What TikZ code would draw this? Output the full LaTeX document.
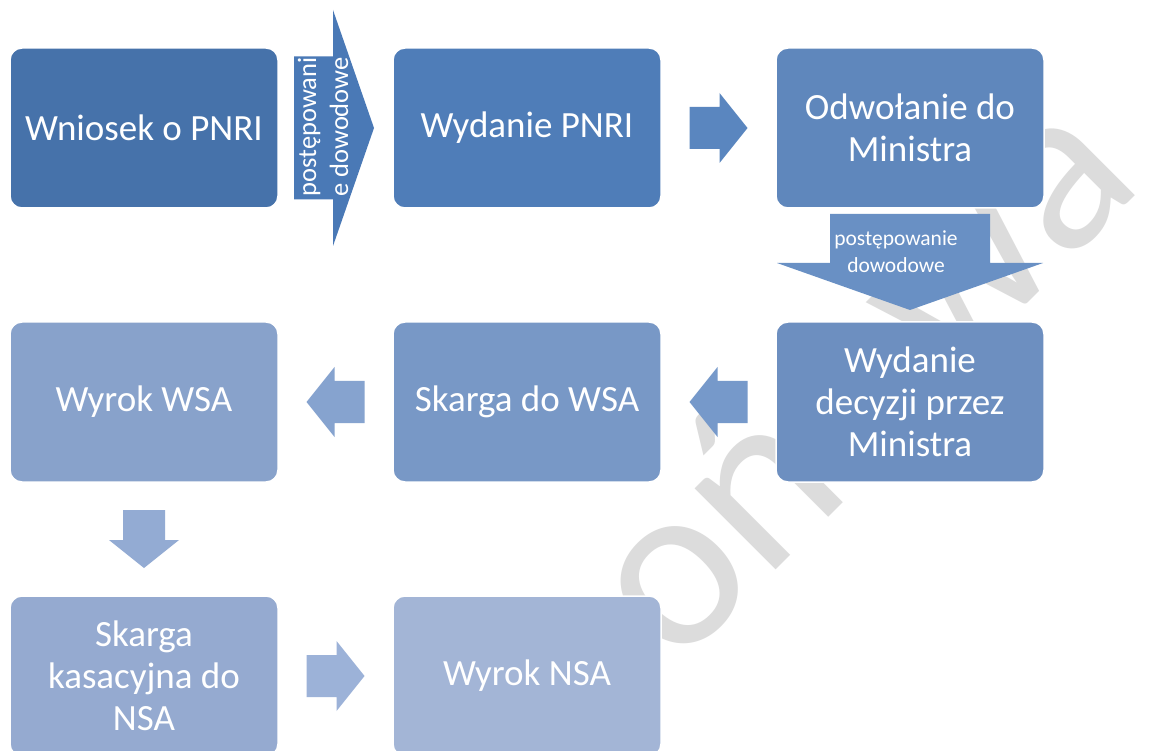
\documentclass[tikz,border=0pt]{standalone}
\usepackage{fontspec}
\setmainfont{Carlito}
\usetikzlibrary{calc}

% box fills, darkest first
\definecolor{bxA}{HTML}{4672AA}
\definecolor{bxB}{HTML}{4F7DB8}
\definecolor{bxC}{HTML}{5F87BC}
\definecolor{bxD}{HTML}{6D8FC0}
\definecolor{bxE}{HTML}{7898C6}
\definecolor{bxF}{HTML}{88A2CB}
\definecolor{bxG}{HTML}{95AAD0}
\definecolor{bxH}{HTML}{A3B5D6}
% arrow fills
\definecolor{arA}{HTML}{4A79B6}
\definecolor{arB}{HTML}{5A86BF}
\definecolor{arC}{HTML}{6990C4}
\definecolor{arD}{HTML}{7699CA}
\definecolor{arE}{HTML}{86A3CF}
\definecolor{arF}{HTML}{93ABD3}
\definecolor{arG}{HTML}{9CB2D8}
\definecolor{wmgray}{RGB}{220,220,220}

\begin{document}
\begin{tikzpicture}[x=1pt,y=-1pt,
  box/.style={draw=white, line width=1.5pt, rounded corners=12pt,
    minimum width=268pt, minimum height=160pt, inner sep=0pt,
    text=white, align=center, font=\fontsize{37}{42}\selectfont},
  arrowlabel/.style={text=white, align=center, inner sep=0pt},
  watermark/.style={text=wmgray, inner sep=0pt, font=\fontsize{240}{288}\selectfont},
  pics/blockarrow/.style n args={4}{code={
    \fill[pic actions] ({-#1/2},{-#3}) -- ({#1/2-#2},{-#3}) -- ({#1/2-#2},{-#4})
      -- ({#1/2},0) -- ({#1/2-#2},{#4}) -- ({#1/2-#2},{#3}) -- ({-#1/2},{#3}) -- cycle;
  }}]

\useasboundingbox (0,0) rectangle (1160,751);
\fill[white] (0,0) rectangle (1160,751);

% faint diagonal watermark behind everything
\node[watermark, rotate=45, anchor=base west] (wm1) at (675,671) {oń};
\node[watermark, rotate=45, anchor=base west] (wm2) at (945,386) {wa};

% process steps
\node[box, fill=bxA] (a) at (144,128) {Wniosek o PNRI};
\node[box, fill=bxB] (b) at (527,128) {Wydanie PNRI};
\node[box, fill=bxC] (c) at (910,128) {Odwołanie do\\Ministra};
\node[box, fill=bxD] (d) at (910,402) {Wydanie\\decyzji przez\\Ministra};
\node[box, fill=bxE] (e) at (527,402) {Skarga do WSA};
\node[box, fill=bxF] (f) at (144,402) {Wyrok WSA};
\node[box, fill=bxG] (g) at (144,676) {Skarga\\kasacyjna do\\NSA};
\node[box, fill=bxH] (h) at (527,676) {Wyrok NSA};

% block arrows between the steps
\pic[fill=arA] at ($(a.east)!0.5!(b.west)+(-1.5,0)$) {blockarrow={80}{41}{71.5}{118}};
\pic[fill=arB] at ($(b.east)!0.5!(c.west)$) {blockarrow={58}{28}{21}{35}};
\pic[fill=arC, rotate=-90] at ($(c.south)!0.5!(d.north)+(0,-3)$) {blockarrow={96}{47}{80}{133}};
\pic[fill=arD, rotate=180] at ($(d.west)!0.5!(e.east)$) {blockarrow={58}{28}{21}{35}};
\pic[fill=arE, rotate=180] at ($(e.west)!0.5!(f.east)$) {blockarrow={58}{28}{21}{35}};
\pic[fill=arF, rotate=-90] at ($(f.south)!0.5!(g.north)$) {blockarrow={58}{28}{21}{35}};
\pic[fill=arG] at ($(g.east)!0.5!(h.west)$) {blockarrow={58}{28}{21}{35}};

% labels carried by the two large arrows
\node[arrowlabel, rotate=90, font=\fontsize{26.5}{32}\selectfont] (lab1) at (323,127)
  {postępowani\\e dowodowe};
\node[arrowlabel, font=\fontsize{21.5}{27.5}\selectfont] (lab2) at (896,251.5)
  {postępowanie\\dowodowe};
\end{tikzpicture}
\end{document}
